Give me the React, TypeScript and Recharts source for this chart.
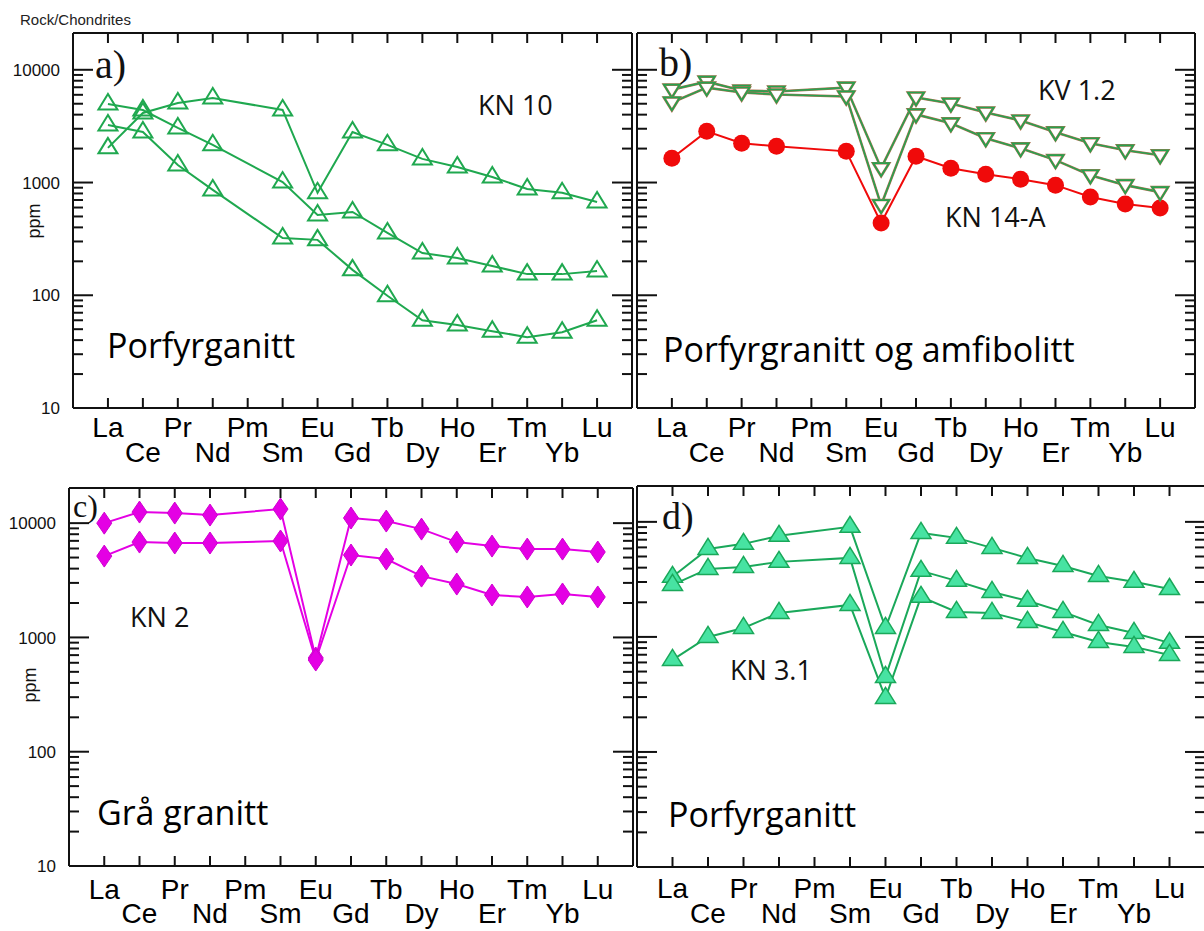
import React from 'react';
import { LineChart, Line, XAxis, YAxis } from 'recharts';

// ---------- categories & ticks ----------
const elements = ['La', 'Ce', 'Pr', 'Nd', 'Pm', 'Sm', 'Eu', 'Gd', 'Tb', 'Dy', 'Ho', 'Er', 'Tm', 'Yb', 'Lu'];
const xTicks = [0, 1, 2, 3, 4, 5, 6, 7, 8, 9, 10, 11, 12, 13, 14];
const yTicks = [
  10, 20, 30, 40, 50, 60, 70, 80, 90,
  100, 200, 300, 400, 500, 600, 700, 800, 900,
  1000, 2000, 3000, 4000, 5000, 6000, 7000, 8000, 9000,
  10000,
];
const majorTicks = [10, 100, 1000, 10000];

// ---------- panel a: KN 10 ----------
const aKN10_1 = [4980, 4400, 3050, 2160, null, 1010, 516, 548, 357, 237, 214, 182, 154, 154, 164];
const aKN10_2 = [3240, 2810, 1430, 860, null, 322, 310, 168, 99, 60, 54.5, 48, 42.5, 47, 60];
const aKN10_3 = [2030, 4140, 5080, 5630, null, 4400, 810, 2810, 2160, 1620, 1375, 1120, 877, 810, 673];

// ---------- panel b: KV 1.2 & KN 14-A ----------
const bKV12_1 = [6670, 7850, 6550, 6420, null, 6950, 1340, 5680, 5020, 4180, 3550, 2790, 2230, 1930, 1745];
const bKV12_2 = [5130, 6950, 6290, 6040, null, 5800, 631, 4020, 3350, 2470, 2010, 1580, 1160, 948, 822];
const bKN14A = [1640, 2845, 2230, 2095, null, 1890, 438, 1710, 1340, 1186, 1071, 948, 743, 644, 594];

// ---------- panel c: KN 2 ----------
const cKN2_1 = [10000, 12500, 12250, 11770, null, 13280, 661, 11090, 10430, 8870, 6830, 6300, 5930, 5930, 5590];
const cKN2_2 = [5150, 6830, 6700, 6700, null, 6980, 634, 5260, 4850, 3440, 2930, 2350, 2260, 2400, 2260];

// ---------- panel d: KN 3.1 ----------
const dKN31_1 = [3330, 5820, 6440, 7560, null, 9050, 1197, 8020, 7260, 5940, 4860, 4140, 3390, 3010, 2610];
const dKN31_2 = [2830, 3900, 4060, 4490, null, 4860, 449, 3750, 3070, 2460, 2060, 1650, 1270, 1083, 888];
const dKN31_3 = [631, 1000, 1197, 1617, null, 1897, 295, 2230, 1650, 1617, 1350, 1105, 905, 819, 697];

const W = 1210;
const H = 931;
const SANS = 'Liberation Sans, Arial, sans-serif';
const CAL = 'Open Sans, sans-serif';
const SERIF = 'Liberation Serif, Times New Roman, serif';

// ---------- markers ----------
const UpTriHollow = (color: string) => (p: any) => {
  const { cx, cy, index } = p;
  if (cx == null || cy == null) return <g key={index} />;
  const pts = `${cx},${cy - 10} ${cx - 9.5},${cy + 5.5} ${cx + 9.5},${cy + 5.5}`;
  return <polygon key={index} points={pts} fill="none" stroke={color} strokeWidth={2} />;
};
const UpTriFilled = (fill: string, stroke: string) => (p: any) => {
  const { cx, cy, index } = p;
  if (cx == null || cy == null) return <g key={index} />;
  const pts = `${cx},${cy - 10.5} ${cx - 10},${cy + 5.5} ${cx + 10},${cy + 5.5}`;
  return <polygon key={index} points={pts} fill={fill} stroke={stroke} strokeWidth={1.5} />;
};
const DownTri = (p: any) => {
  const { cx, cy, index } = p;
  if (cx == null || cy == null) return <g key={index} />;
  const pts = `${cx - 8},${cy - 5} ${cx + 8},${cy - 5} ${cx},${cy + 8}`;
  return (
    <g key={index}>
      <polygon points={pts} fill="#fff" stroke="#b07050" strokeWidth={2.6} />
      <polygon points={pts} fill="none" stroke="#27a14e" strokeWidth={1.7} />
    </g>
  );
};
const Circle = (color: string) => (p: any) => {
  const { cx, cy, index } = p;
  if (cx == null || cy == null) return <g key={index} />;
  return <circle key={index} cx={cx} cy={cy} r={8.5} fill={color} />;
};
const Diamond = (fill: string) => (p: any) => {
  const { cx, cy, index } = p;
  if (cx == null || cy == null) return <g key={index} />;
  const pts = `${cx},${cy - 11} ${cx + 7.5},${cy} ${cx},${cy + 11} ${cx - 7.5},${cy}`;
  return <polygon key={index} points={pts} fill={fill} stroke="#d000d0" strokeWidth={1} />;
};

// ---------- ticks ----------
const LeftTick = (showLabel: boolean) => (p: any) => {
  const { x, y, payload } = p;
  const v = payload.value;
  const major = majorTicks.includes(v);
  return (
    <g>
      <line x1={x} x2={x + (major ? 20 : 10)} y1={y} y2={y} stroke="#111" strokeWidth={2} />
      {showLabel && major ? (
        <text x={x - 13} y={y} dy="0.36em" textAnchor="end" fontFamily={SANS} fontSize={17} fill="#111">
          {v}
        </text>
      ) : null}
    </g>
  );
};
const RightTick = (p: any) => {
  const { x, y, payload } = p;
  const major = majorTicks.includes(payload.value);
  return <line x1={x} x2={x - (major ? 20 : 10)} y1={y} y2={y} stroke="#111" strokeWidth={2} />;
};
const BottomTick = (off1: number, off2: number) => (p: any) => {
  const { x, y, payload } = p;
  const i = payload.value;
  return (
    <g>
      <line x1={x} x2={x} y1={y} y2={y - 10} stroke="#111" strokeWidth={2} />
      <text x={x} y={y + (i % 2 === 0 ? off1 : off2)} textAnchor="middle" fontFamily={SANS} fontSize={28} fill="#000">
        {elements[i]}
      </text>
    </g>
  );
};
const TopTick = (p: any) => {
  const { x, y } = p;
  return <line x1={x} x2={x} y1={y} y2={y + 10} stroke="#111" strokeWidth={2} />;
};

type SeriesDef = {
  values: (number | null)[];
  color: string;
  width: number;
  dot: any;
  under?: string;
};

type PanelProps = {
  left: number;
  top: number;
  right: number;
  bottom: number;
  yMax: number;
  showYLabels: boolean;
  off1: number;
  off2: number;
  series: SeriesDef[];
};

function Panel({ left, top, right, bottom, yMax, showYLabels, off1, off2, series }: PanelProps) {
  const data = elements.map((el, i) => {
    const o: any = { x: i, el };
    series.forEach((s, k) => {
      o['s' + k] = s.values[i];
    });
    return o;
  });
  const axisLine = { stroke: '#111', strokeWidth: 2 };
  return (
    <div style={{ position: 'absolute', left: 0, top: 0 }}>
      <LineChart width={W} height={H} data={data} margin={{ top: 0, right: 0, bottom: 0, left: 0 }}>
        <XAxis
          xAxisId="b"
          dataKey="x"
          type="number"
          orientation="bottom"
          domain={[-1, 15]}
          ticks={xTicks}
          interval={0}
          height={H - bottom}
          tickSize={0}
          tickMargin={0}
          axisLine={axisLine}
          tick={BottomTick(off1, off2)}
          allowDataOverflow
        />
        <XAxis
          xAxisId="t"
          dataKey="x"
          type="number"
          orientation="top"
          domain={[-1, 15]}
          ticks={xTicks}
          interval={0}
          height={top}
          tickSize={0}
          tickMargin={0}
          axisLine={axisLine}
          tick={TopTick}
          allowDataOverflow
        />
        <YAxis
          yAxisId="l"
          orientation="left"
          scale="log"
          domain={[10, yMax]}
          ticks={yTicks}
          interval={0}
          width={left}
          tickSize={0}
          tickMargin={0}
          axisLine={axisLine}
          tick={LeftTick(showYLabels)}
          allowDataOverflow
        />
        <YAxis
          yAxisId="r"
          orientation="right"
          scale="log"
          domain={[10, yMax]}
          ticks={yTicks}
          interval={0}
          width={W - right}
          tickSize={0}
          tickMargin={0}
          axisLine={axisLine}
          tick={RightTick}
          allowDataOverflow
        />
        {series.map((s, k) =>
          s.under ? (
            <Line
              key={'u' + k}
              xAxisId="b"
              yAxisId="l"
              dataKey={'s' + k}
              stroke={s.under}
              strokeWidth={2.6}
              dot={false}
              activeDot={false}
              connectNulls
              isAnimationActive={false}
            />
          ) : null
        )}
        {series.map((s, k) => (
          <Line
            key={'l' + k}
            xAxisId="b"
            yAxisId="l"
            dataKey={'s' + k}
            stroke={s.color}
            strokeWidth={s.width}
            dot={s.dot}
            activeDot={false}
            connectNulls
            isAnimationActive={false}
          />
        ))}
      </LineChart>
    </div>
  );
}

const GREEN_A = '#1fa84f';
const GREEN_D = '#1aa85a';
const MINT = '#47e3a2';
const RED = '#f00a0a';
const MAGENTA = '#e400e4';

export default function App() {
  return (
    <div
      style={{
        position: 'absolute',
        left: 0,
        top: 0,
        width: 1204,
        height: 931,
        overflow: 'hidden',
        background: '#fff',
      }}
    >
      <Panel
        left={73}
        top={33}
        right={632}
        bottom={408}
        yMax={21200}
        showYLabels
        off1={29}
        off2={54}
        series={[
          { values: aKN10_1, color: GREEN_A, width: 2, dot: UpTriHollow(GREEN_A) },
          { values: aKN10_2, color: GREEN_A, width: 2, dot: UpTriHollow(GREEN_A) },
          { values: aKN10_3, color: GREEN_A, width: 2, dot: UpTriHollow(GREEN_A) },
        ]}
      />
      <Panel
        left={637}
        top={33}
        right={1195}
        bottom={408}
        yMax={21200}
        showYLabels={false}
        off1={29}
        off2={54}
        series={[
          { values: bKN14A, color: RED, width: 2, dot: Circle(RED) },
          { values: bKV12_1, color: '#2aa050', width: 1.6, dot: DownTri, under: '#b07050' },
          { values: bKV12_2, color: '#2aa050', width: 1.6, dot: DownTri, under: '#b07050' },
        ]}
      />
      <Panel
        left={69}
        top={488}
        right={633}
        bottom={866}
        yMax={20300}
        showYLabels
        off1={33}
        off2={57}
        series={[
          { values: cKN2_1, color: MAGENTA, width: 2, dot: Diamond(MAGENTA) },
          { values: cKN2_2, color: MAGENTA, width: 2, dot: Diamond(MAGENTA) },
        ]}
      />
      <Panel
        left={637}
        top={486}
        right={1205}
        bottom={867}
        yMax={20500}
        showYLabels={false}
        off1={31}
        off2={56}
        series={[
          { values: dKN31_1, color: GREEN_D, width: 2, dot: UpTriFilled(MINT, GREEN_D) },
          { values: dKN31_2, color: GREEN_D, width: 2, dot: UpTriFilled(MINT, GREEN_D) },
          { values: dKN31_3, color: GREEN_D, width: 2, dot: UpTriFilled(MINT, GREEN_D) },
        ]}
      />
      <svg width={1204} height={931} style={{ position: 'absolute', left: 0, top: 0, pointerEvents: 'none' }}>
        <text x={20} y={25} fontFamily={SANS} fontSize={15} fill="#222">Rock/Chondrites</text>
        <text transform="translate(40,221) rotate(-90)" textAnchor="middle" fontFamily={SANS} fontSize={18} fill="#111">ppm</text>
        <text transform="translate(36,685) rotate(-90)" textAnchor="middle" fontFamily={SANS} fontSize={18} fill="#111">ppm</text>

        <text x={95} y={78} fontFamily={SERIF} fontSize={40} fill="#111">a)</text>
        <text x={659} y={76} fontFamily={SERIF} fontSize={40} fill="#111">b)</text>
        <text x={73} y={517} fontFamily={SERIF} fontSize={32} fill="#111">c)</text>
        <text x={662} y={529} fontFamily={SERIF} fontSize={38} fill="#111">d)</text>

        <text x={478} y={115} fontFamily={CAL} fontSize={27} fill="#111">KN 10</text>
        <text x={107} y={358} fontFamily={CAL} fontSize={34} fill="#000">Porfyrganitt</text>

        <text x={1038} y={100} fontFamily={CAL} fontSize={27} fill="#111">KV 1.2</text>
        <text x={945} y={227} fontFamily={CAL} fontSize={27} fill="#111">KN 14-A</text>
        <text x={663} y={362} fontFamily={CAL} fontSize={34} fill="#000">Porfyrgranitt og amfibolitt</text>

        <text x={130} y={627} fontFamily={CAL} fontSize={27} fill="#111">KN 2</text>
        <text x={97} y={825} fontFamily={CAL} fontSize={34} fill="#000">Grå granitt</text>

        <text x={730} y={680} fontFamily={CAL} fontSize={27} fill="#111">KN 3.1</text>
        <text x={668} y={827} fontFamily={CAL} fontSize={34} fill="#000">Porfyrganitt</text>
      </svg>
    </div>
  );
}
